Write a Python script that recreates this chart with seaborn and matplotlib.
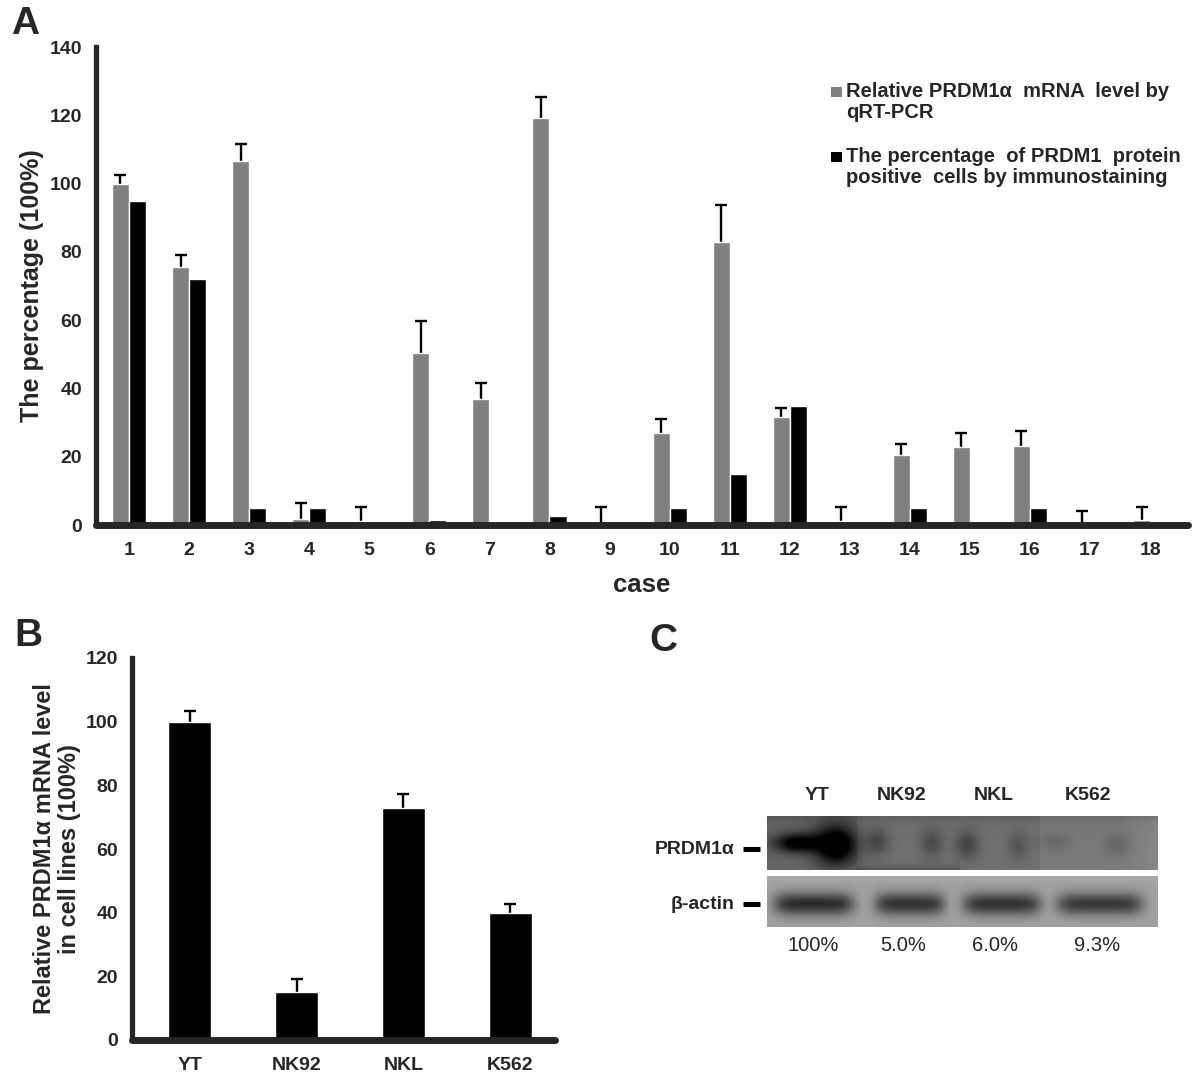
import matplotlib
matplotlib.use("Agg")

import matplotlib.pyplot as plt
import numpy as np
import pandas as pd
import seaborn as sns
from matplotlib.patches import Rectangle

# ---- panel A data: 18 clinical cases ----
cases = [str(i) for i in range(1, 19)]
mrna_level = [100, 75.5, 106.5, 1.8, 1.3, 50.5, 36.8, 119.2, 0.0,
              27.0, 82.8, 31.6, 1.2, 20.6, 22.9, 23.2, 0.3, 1.6]
mrna_err = [2.6, 3.6, 5.2, 4.6, 4.0, 9.2, 4.8, 6.3, 5.3,
            3.9, 11.0, 2.6, 4.0, 3.1, 4.1, 4.2, 3.9, 3.6]
protein_pct = [95, 72, 5, 5, 0, 1.5, 0, 2.5, 0,
               5, 15, 35, 0, 5, 0, 5, 0, 0]
series_names = [
    "Relative PRDM1\u03b1  mRNA  level by\nqRT-PCR",
    "The percentage  of PRDM1  protein\npositive  cells by immunostaining",
]

# ---- panel B data: cell lines ----
cell_lines = ["YT", "NK92", "NKL", "K562"]
cell_mrna = [100, 15, 73, 40]
cell_err = [3.4, 4.2, 4.2, 2.8]

# ---- panel C: western blot lanes ----
blot_lanes = ["YT", "NK92", "NKL", "K562"]
blot_ratio = ["100%", "5.0%", "6.0%", "9.3%"]
blot_rows = ["PRDM1\u03b1", "\u03b2-actin"]

W, H = 1200, 1089
GRAY = "#808080"


def px_rect(x0, y0, x1, y1):
    """Figure pixel box (origin top-left) -> add_axes rect."""
    return [x0 / W, 1 - y1 / H, (x1 - x0) / W, (y1 - y0) / H]


def style_axes(ax):
    sns.despine(ax=ax)
    ax.spines["left"].set_linewidth(3.8)
    ax.spines["bottom"].set_linewidth(5)
    ax.spines["bottom"].set_capstyle("round")
    ax.tick_params(axis="y", length=4, width=3.8, labelsize=14, pad=6)
    ax.tick_params(axis="x", length=0, labelsize=14, pad=12)
    ax.set_xlabel("")


def add_up_errors(ax, container, errs):
    xs = [b.get_x() + b.get_width() / 2 for b in container]
    tops = [b.get_height() for b in container]
    # symmetric bars drawn under the bars, so only the upper half shows
    ax.errorbar(xs, tops, yerr=errs, fmt="none", ecolor="black",
                elinewidth=1.7, capsize=4, capthick=1.7, zorder=0.5)


sns.set_style("white")
plt.rcParams["font.family"] = ["Liberation Sans", "DejaVu Sans"]
plt.rcParams["font.weight"] = "bold"

fig = plt.figure(figsize=(W / 100, H / 100), dpi=100)

# ---------------- A ----------------
ax_a = fig.add_axes(px_rect(96, 47, 1188, 525))
df_a = pd.DataFrame({
    "case": cases * 2,
    "value": mrna_level + protein_pct,
    "series": [series_names[0]] * len(cases) + [series_names[1]] * len(cases),
})
sns.barplot(data=df_a, x="case", y="value", hue="series",
            palette=[GRAY, "black"], width=0.57, errorbar=None,
            saturation=1, legend=False, ax=ax_a, zorder=1)
add_up_errors(ax_a, ax_a.containers[0], mrna_err)
ax_a.set_ylim(0, 140)
ax_a.set_yticks(range(0, 141, 20))
ax_a.set_xlim(-0.55, 17.63)
style_axes(ax_a)
ax_a.set_ylabel("The percentage (100%)", fontsize=18, fontweight="bold")
ax_a.yaxis.set_label_coords(-0.048, 0.5)
ax_a.set_xlabel("case", fontsize=18.5, fontweight="bold")
ax_a.xaxis.set_label_coords(0.5, -0.1)

# legend, hand placed like the original
legend_y = [82, 147]
for name, col, y in zip(series_names, [GRAY, "black"], legend_y):
    fig.add_artist(Rectangle((831 / W, 1 - (y + 15) / H), 11 / W, 10 / H,
                             transform=fig.transFigure, color=col, lw=0))
    fig.text(846 / W, 1 - y / H, name, fontsize=14.5, fontweight="bold",
             va="top", ha="left", linespacing=1.15)

# ---------------- B ----------------
ax_b = fig.add_axes(px_rect(132, 658, 555, 1040))
df_b = pd.DataFrame({"cell_line": cell_lines, "value": cell_mrna})
sns.barplot(data=df_b, x="cell_line", y="value", color="black", width=0.4,
            errorbar=None, saturation=1, ax=ax_b, zorder=1)
add_up_errors(ax_b, ax_b.containers[0], cell_err)
ax_b.set_ylim(0, 120)
ax_b.set_yticks(range(0, 121, 20))
ax_b.set_xlim(-0.54, 3.42)
style_axes(ax_b)
ax_b.set_ylabel("Relative PRDM1\u03b1 mRNA level\nin cell lines (100%)",
                fontsize=17, fontweight="bold", linespacing=1.1)
ax_b.yaxis.set_label_coords(-0.12, 0.5)

# ---------------- C ----------------
ax_c = fig.add_axes(px_rect(640, 760, 1200, 980))
ax_c.set_xlim(640, 1200)
ax_c.set_ylim(980, 760)
ax_c.axis("off")


def gauss(X, Y, cx, cy, sx, sy):
    return np.exp(-(((X - cx) / sx) ** 2 + ((Y - cy) / sy) ** 2) / 2)


# upper strip (PRDM1a)
X1, Y1 = np.meshgrid(np.arange(767, 1158) + 0.5, np.arange(816, 870) + 0.5)
top = np.full(X1.shape, 0.44)
top[X1 < 857] = 0.40
top[X1 > 1040] = 0.48
top += 0.05 * np.clip((X1 - 1120) / 38, 0, 1)
top -= 0.07 * np.exp(-(Y1 - 816) / 6)
top -= 0.10 * np.exp(-(869 - Y1) / 3) * ((X1 > 857) & (X1 < 960))
prdm_blobs = [(797, 843, 16, 7, 0.45), (836, 845, 15, 14, 0.55),
              (878, 842, 8, 9, 0.16), (932, 843, 8, 10, 0.15),
              (967, 845, 8, 10, 0.18), (1018, 846, 7, 10, 0.11),
              (1055, 842, 12, 6, 0.07), (1117, 845, 10, 8, 0.08)]
for cx, cy, sx, sy, amp in prdm_blobs:
    top -= amp * gauss(X1, Y1, cx, cy, sx, sy)
ax_c.imshow(np.clip(top, 0, 1), cmap="gray", vmin=0, vmax=1,
            extent=(767, 1158, 870, 816), aspect="auto", interpolation="bilinear")

# lower strip (beta-actin)
X2, Y2 = np.meshgrid(np.arange(767, 1158) + 0.5, np.arange(876, 927) + 0.5)
low = np.full(X2.shape, 0.63)
low += 0.04 * np.exp(-(Y2 - 876) / 6)
actin_bands = [(814, 40, 0.46), (910, 35, 0.43), (1002, 39, 0.43), (1100, 43, 0.41)]
for cx, hw, amp in actin_bands:
    low -= amp * np.exp(-(np.abs(X2 - cx) / hw) ** 6) * np.exp(-((Y2 - 904) / 8) ** 2 / 2)
ax_c.imshow(np.clip(low, 0, 1), cmap="gray", vmin=0, vmax=1,
            extent=(767, 1158, 927, 876), aspect="auto", interpolation="bilinear")

lane_x = [817, 902, 994, 1088]
ratio_x = [813, 903, 995, 1097]
for lab, ratio, lx, rx in zip(blot_lanes, blot_ratio, lane_x, ratio_x):
    ax_c.text(lx, 795, lab, ha="center", va="center", fontsize=14, fontweight="bold")
    ax_c.text(rx, 946, ratio, ha="center", va="center", fontsize=14.5, fontweight="normal")

for row, y in zip(blot_rows, [850, 905]):
    ax_c.text(735, y, row, ha="right", va="center", fontsize=14, fontweight="bold")
    ax_c.plot([743, 760], [y - 1, y - 1], color="black", lw=3.6, solid_capstyle="butt")

# panel letters
for letter, x, y in [("A", 11, 24), ("B", 14, 636), ("C", 649, 641)]:
    fig.text(x / W, 1 - y / H, letter, fontsize=28, fontweight="bold", va="center", ha="left")

fig.savefig("out.png", dpi=100)
